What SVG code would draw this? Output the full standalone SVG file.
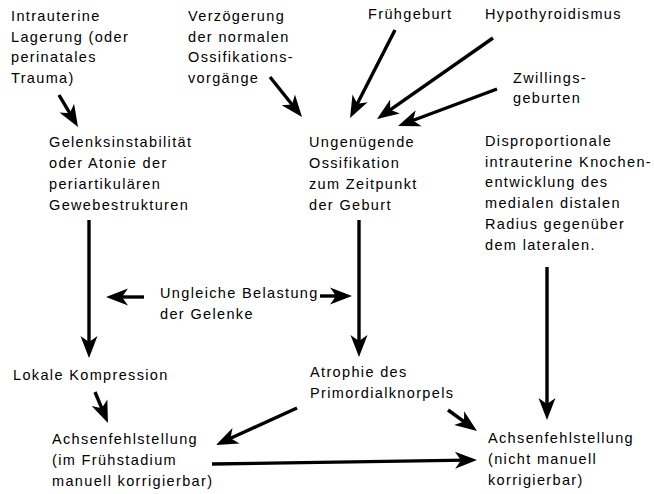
<svg xmlns="http://www.w3.org/2000/svg" width="654" height="494" viewBox="0 0 654 494">
<defs>
<style>
text{font-family:"Liberation Sans",Arial,sans-serif;font-size:14.5px;letter-spacing:1.35px;fill:#000;}
.c line{stroke:#000;stroke-width:3.4;fill:none;marker-end:url(#ah);}
</style>
<marker id="ah" markerUnits="userSpaceOnUse" viewBox="-14 -10 26 20" refX="0" refY="0" markerWidth="26" markerHeight="20" orient="auto" overflow="visible">
<path d="M10,0 L-12,-8.5 L-6,0 L-12,8.5 Z" fill="#000"/>
</marker>
</defs>
<rect width="654" height="494" fill="#fff"/>
<g id="n-intrauterin"><text x="11" y="21">Intrauterine</text><text x="11" y="41.7">Lagerung (oder</text><text x="11" y="62.4">perinatales</text><text x="11" y="83.1">Trauma)</text></g>
<g id="n-verzoegerung"><text x="188" y="21">Verzögerung</text><text x="188" y="41.7">der normalen</text><text x="188" y="62.4">Ossifikations-</text><text x="188" y="83.1">vorgänge</text></g>
<g id="n-fruehgeburt"><text x="368" y="19">Frühgeburt</text></g>
<g id="n-hypothyroidismus"><text x="485" y="19">Hypothyroidismus</text></g>
<g id="n-zwillinge"><text x="513" y="83">Zwillings-</text><text x="513" y="103">geburten</text></g>
<g id="n-gelenksinstabilitaet"><text x="49" y="147">Gelenksinstabilität</text><text x="49" y="168">oder Atonie der</text><text x="49" y="189">periartikulären</text><text x="49" y="210">Gewebestrukturen</text></g>
<g id="n-ossifikation"><text x="309" y="147">Ungenügende</text><text x="309" y="168">Ossifikation</text><text x="309" y="189">zum Zeitpunkt</text><text x="309" y="210">der Geburt</text></g>
<g id="n-disproportionale"><text x="485" y="146">Disproportionale</text><text x="485" y="166.7">intrauterine Knochen-</text><text x="485" y="187.4">entwicklung des</text><text x="485" y="208.1">medialen distalen</text><text x="485" y="228.8">Radius gegenüber</text><text x="485" y="249.5">dem lateralen.</text></g>
<g id="n-belastung"><text x="160" y="298">Ungleiche Belastung</text><text x="160" y="319">der Gelenke</text></g>
<g id="n-kompression"><text x="13" y="380">Lokale Kompression</text></g>
<g id="n-atrophie"><text x="310" y="377">Atrophie des</text><text x="310" y="398">Primordialknorpels</text></g>
<g id="n-achsen-links"><text x="52" y="444">Achsenfehlstellung</text><text x="52" y="465">(im Frühstadium</text><text x="52" y="486">manuell korrigierbar)</text></g>
<g id="n-achsen-rechts"><text x="488" y="443">Achsenfehlstellung</text><text x="488" y="464">(nicht manuell</text><text x="488" y="485">korrigierbar)</text></g>
<g id="connectors" class="c">
<line x1="59" y1="95" x2="72.9" y2="118.4"/>
<line x1="270" y1="77" x2="295.8" y2="109.2"/>
<line x1="395" y1="30" x2="354.6" y2="109.1"/>
<line x1="493" y1="38" x2="385.2" y2="113.3"/>
<line x1="497" y1="89" x2="407.4" y2="122.5"/>
<line x1="89" y1="220" x2="89" y2="348"/>
<line x1="359" y1="220" x2="359" y2="347"/>
<line x1="144" y1="297" x2="116" y2="297"/>
<line x1="320" y1="296" x2="342" y2="296"/>
<line x1="547" y1="267" x2="547" y2="410"/>
<line x1="95" y1="392" x2="104.1" y2="413.8"/>
<line x1="297" y1="408" x2="225.1" y2="440.8"/>
<line x1="448" y1="410" x2="468.9" y2="425.1"/>
<line x1="212" y1="464" x2="467" y2="460.1"/>
</g>
</svg>
